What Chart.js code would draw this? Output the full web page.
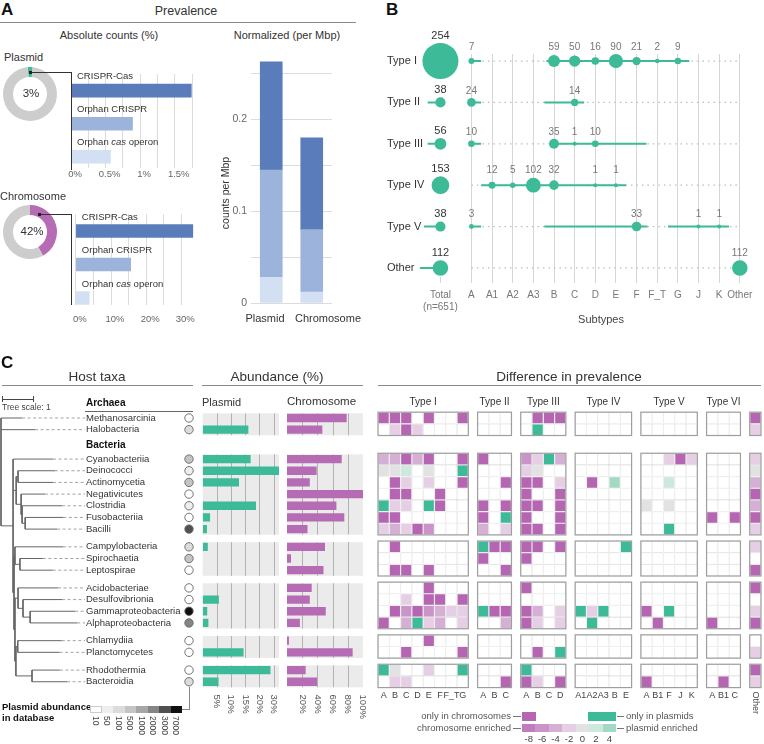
<!DOCTYPE html>
<html><head><meta charset="utf-8">
<script src="https://cdn.jsdelivr.net/npm/chart.js@4.4.1/dist/chart.umd.min.js"></script>
<style>
html,body{margin:0;padding:0;background:#fff}
#root{position:relative;width:764px;height:744px;overflow:hidden;font-family:"Liberation Sans",Arial,Helvetica,sans-serif;color:#333;background:#fff}
#root canvas{position:absolute}
.t{position:absolute;white-space:nowrap;line-height:1}
.ln{position:absolute}
</style></head><body><div id="root"></div>
<script>
const FONT='"Liberation Sans", Arial, Helvetica, sans-serif';
// ================= DATA =================
// ---- Panel A ----
const countCategories=['CRISPR-Cas','Orphan CRISPR','Orphan cas operon'];
const plasmidShare=[3,97];
const chromosomeShare=[42,58];
const plasmidCounts=[1.74,0.89,0.57];
const chromosomeCounts=[33.3,15.6,3.8];
const normGroups=['Plasmid','Chromosome'];
const normCrisprCas=[0.118,0.100];
const normOrphanCrispr=[0.117,0.068];
const normOrphanCas=[0.028,0.012];
// ---- Panel B ----
const typeRows=['Type I','Type II','Type III','Type IV','Type V','Other'];
const subtypeCols=['A','A1','A2','A3','B','C','D','E','F','F_T','G','J','K','Other'];
const typeTotals=[254,38,56,153,38,112];
const countsTypeI  =[7,null,null,null,59,50,16,90,21,2,9,null,null,null];
const countsTypeII =[24,null,null,null,null,14,null,null,null,null,null,null,null,null];
const countsTypeIII=[10,null,null,null,35,1,10,null,null,null,null,null,null,null];
const countsTypeIV =[null,12,5,102,32,null,1,1,null,null,null,null,null,null];
const countsTypeV  =[3,null,null,null,null,null,null,null,33,null,null,1,1,null];
const countsOther  =[null,null,null,null,null,null,null,null,null,null,null,null,null,112];
const rangesTypeI  =[[0,0.47],[3.63,10.55]];
const rangesTypeII =[[-2.12,-1.5],[0,0.47],[3.53,5.46]];
const rangesTypeIII=[[-2.12,-1.5],[0,0.47],[4,8.48]];
const rangesTypeIV =[[0.47,7.49]];
const rangesTypeV  =[[-2.3,-1.5],[0,0.47],[3.53,8.53],[9.52,12.48]];
const rangesOther  =[[-2.5,-1.5],[12.7,13]];
// ---- Panel C ----
const taxa=['Methanosarcinia','Halobacteria','Cyanobacteriia','Deinococci','Actinomycetia','Negativicutes','Clostridia','Fusobacteriia','Bacilli','Campylobacteria','Spirochaetia','Leptospirae','Acidobacteriae','Desulfovibrionia','Gammaproteobacteria','Alphaproteobacteria','Chlamydiia','Planctomycetes','Rhodothermia','Bacteroidia'];
const taxaGroup=[0,0,1,1,1,1,1,1,1,2,2,2,3,3,3,3,4,4,5,5];
const domainHeaders=['Archaea','Bacteria'];
const plasmidAbundance=[0,16.1,16.9,27,12.8,0,18.8,2.6,1.5,1.8,0,0,0,5.7,1.6,2.0,0,14.4,23.9,5.6];
const chromosomeAbundance=[78.5,46.5,72,39,30,100,65,75.4,27,50,5.3,48,32.5,30,51,17,2.6,86.4,24.6,39.5];
const plasmidTickValues=[5,10,15,20,25];
const plasmidTickLabels=['5%','10%','15%','20%','30%'];
const chromosomeTickValues=[20,40,60,80,100];
const chromosomeTickLabels=['20%','40%','60%','80%','100%'];
const dbLevels=['10','50','100','500','1000','2000','3000','7000'];
const dbLevelOfTaxon=[0,2,3,1,3,0,1,0,6,2,3,0,0,0,7,5,0,0,0,2];
const taxaTree='(Methanosarcinia:0.68,Halobacteria:1.10,(Cyanobacteriia:1.29,((Deinococci:1.19,Actinomycetia:1.13):0.06,(Negativicutes:0.77,(Clostridia:1.29,(Fusobacteriia:1.23,Bacilli:1.03):0.10):0.03):0.16):0.10,((Campylobacteria:1.55,(Spirochaetia:0.74,Leptospirae:1.06):0.16):0.03,((Acidobacteriae:1.29,(Desulfovibrionia:1.26,(Gammaproteobacteria:1.45,Alphaproteobacteria:1.52):0.23):0.16):0.10,((Chlamydiia:1.42,Planctomycetes:1.35):0.06,(Rhodothermia:0.90,Bacteroidia:1.13):0.52):0.03):0.03):0.03):0.39);';
const hmTypes=['Type I','Type II','Type III','Type IV','Type V','Type VI','Other'];
const hmCols=[['A','B','C','D','E','F','F_T','G'],['A','B','C'],['A','B','C','D'],['A1','A2','A3','B','E'],['A','B1','F','J','K'],['A','B1','C'],['Other']];
// C = only in chromosomes, P = only in plasmids, numbers = enrichment, . = none
const hmTypeI=["C C C . C . . C",". -2 C -2 . . . .","-4 -4 C -4 C . . C","0 0 2 . 0 . . P",". C -2 . -2 . . C",". C C . . C . .","P -2 -2 . P C . .","C C . . . . . .","-2 -4 -2 C -6 . . .",". C . . . . . .",". . . . . . . .",". C C . C . . .",". . . . C . . .",". . -2 . C C . C",". C -6 C -6 -4 -2 -2","C . -4 P -2 -4 . -2",". . . . C . . .",". . C . . . . C","P 0 . . -2 . . P",". -2 -2 . . . . ."];
const hmTypeII=[". . .",". . .","C . .",". . .",". . C",". . .","C . C","C . P","-4 . -2","P C C","C . .",". . C",". . .",". . .","P C C",". . -4",". . .",". . .",". . .",". . C"];
const hmTypeIII=[". C C C",". P . .","-6 -2 P -4","-2 0 . .","C C . -2","C . . C","C C . C","C . . C","C C . C","C C . C","C . . .",". . . .","C . . .",". . . .","C -4 . -2","C -2 . -2",". . . .",". C . P","P . . .","C -2 . C"];
const hmTypeIV=[". . . . .",". . . . .",". . . . .",". . . . .",". C . 4 .",". . . . .",". . . . .",". . . . .",". . . . .",". . . . P",". . . . .",". . . . .",". . . . .",". . . . .","P -2 P . .",". P . . .",". . . . .",". . . . .",". . . . .",". . . . ."];
const hmTypeV=[". . . . .",". . . . .",". . -2 C -2",". . . . .",". . 2 . .",". . . . .","0 . 0 . .",". . . . .",". . P . .",". . . . .",". . . . .",". . . . .",". . . . .",". . . . .","C . P . .",". C . . .",". . . . .",". . . . .",". . . . .","C . . . ."];
const hmTypeVI=[". . .",". . .",". . .",". . .",". . .",". . .",". . .","C . C",". . .",". . .",". . .",". . .",". . .",". . .",". . .","C . .",". . .",". . .",". . .",". C ."];
const hmOther=["C","-2","-2","0","-4","C","-4","C","-2","-2",".","C","C",".","-2","C",".","-2","C","-2"];
const legendLevels=[-8,-6,-4,-2,0,2,4];

// ================= STYLE =================
const GREEN='#3dba97', PURPLE='#b66cb4', DONUT_GREY='#cdcdcd';
const COUNT_COLORS=['#5b7cba','#9cb4dc','#d3e0f3'];
const LEVEL_COLORS={'C':'#b565b2','P':'#3dba97','-8':'#c07dbd','-6':'#ca94c8','-4':'#d6afd4','-2':'#e6cfe5','0':'#e2e2e2','2':'#cde9dd','4':'#a2d9c3'};
const DB_GREYS=['#ffffff','#eeeeee','#dcdcdc','#c4c4c4','#a6a6a6','#858585','#505050','#111111'];

Chart.defaults.font.family=FONT;
Chart.defaults.font.size=10;
Chart.defaults.color='#666';
Chart.defaults.animation=false;
Chart.defaults.responsive=false;
Chart.defaults.maintainAspectRatio=false;
Chart.defaults.devicePixelRatio=1;
Chart.defaults.events=[];
Chart.defaults.plugins.legend.display=false;
Chart.defaults.plugins.tooltip.enabled=false;

const root=document.getElementById('root');
function cv(l,t,w,h){const c=document.createElement('canvas');c.width=w;c.height=h;Object.assign(c.style,{left:l+'px',top:t+'px',width:w+'px',height:h+'px'});root.appendChild(c);return c;}
function T(s,x,y,o){o=o||{};const d=document.createElement('div');d.className='t';d.innerHTML=s;d.style.left=x+'px';d.style.top=y+'px';d.style.fontSize=(o.size||11)+'px';if(o.bold)d.style.fontWeight='bold';d.style.color=o.color||'#333';const ax=o.align==='center'?'-50%':(o.align==='right'?'-100%':'0%');d.style.transform=`translate(${ax},-50%)`;root.appendChild(d);return d;}
function R(s,x,ytop,size,color){const d=document.createElement('div');d.className='t';d.textContent=s;d.style.left=x+'px';d.style.top=ytop+'px';d.style.fontSize=size+'px';d.style.color=color||'#444';d.style.transformOrigin='0 0';d.style.transform='rotate(90deg) translate(0,-50%)';root.appendChild(d);}
function RL(s,x,y,size,color){const d=document.createElement('div');d.className='t';d.textContent=s;d.style.left=x+'px';d.style.top=y+'px';d.style.fontSize=size+'px';d.style.color=color||'#333';d.style.transform='translate(-50%,-50%) rotate(-90deg)';root.appendChild(d);}
function H(x1,x2,y,c,w){w=w||1;const d=document.createElement('div');d.className='ln';Object.assign(d.style,{left:x1+'px',top:(y-w/2)+'px',width:(x2-x1)+'px',height:w+'px',background:c||'#888'});root.appendChild(d);}
function V(x,y1,y2,c,w){w=w||1;const d=document.createElement('div');d.className='ln';Object.assign(d.style,{left:(x-w/2)+'px',top:y1+'px',width:w+'px',height:(y2-y1)+'px',background:c||'#888'});root.appendChild(d);}
function BOX(l,t,w,h,bg,border){const d=document.createElement('div');d.className='ln';Object.assign(d.style,{left:l+'px',top:t+'px',width:w+'px',height:h+'px',background:bg,boxSizing:'border-box'});if(border)d.style.border=border;root.appendChild(d);}

// ================= PANEL A =================
function donut(l,t,data,color,rot){
  return new Chart(cv(l,t,60,60),{type:'doughnut',
    data:{datasets:[{data:data,backgroundColor:[color,DONUT_GREY],borderWidth:0}]},
    options:{cutout:'63%',rotation:rot,layout:{padding:3}}});
}
donut(0,64,plasmidShare,GREEN,-5);
donut(0,202,chromosomeShare,PURPLE,0);

function richLabel(ctx,text,x,y){
  const parts=text.split(/(\bcas\b)/);let cx=x;
  parts.forEach(p=>{if(!p)return;ctx.font=(p==='cas'?'italic ':'')+'9.5px '+FONT;ctx.fillText(p,cx,y);cx+=ctx.measureText(p).width;});
}
const absLabels={id:'absLabels',afterDatasetsDraw(chart){const {ctx,scales:{x,y}}=chart;ctx.save();ctx.fillStyle='#333';ctx.textBaseline='middle';ctx.textAlign='left';
  countCategories.forEach((c,i)=>richLabel(ctx,c,x.getPixelForValue(0)+6,y.getPixelForValue(i)-14));ctx.restore();}};
function absChart(l,t,vals,xmax,step,every,ymin,ymax,pad,tickPad){
  return new Chart(cv(l,t,140,130),{type:'bar',
    data:{datasets:[{data:vals.map((v,i)=>({x:v,y:i})),backgroundColor:COUNT_COLORS,borderWidth:0,barThickness:13}]},
    options:{indexAxis:'y',layout:{padding:pad},
      scales:{
        x:{type:'linear',min:0,max:xmax,border:{display:false},
          grid:{color:'#dcdcdc',drawTicks:false},
          ticks:{stepSize:step,includeBounds:false,autoSkip:false,maxRotation:0,padding:tickPad,labelOffset:4,color:'#666',font:{size:9.5},
            callback:v=>{const k=v/every;return Math.abs(k-Math.round(k))<1e-6?(Math.round(v*100)/100)+'%':'';}},
          afterFit(s){s.height=22;}},
        y:{type:'linear',min:ymin,max:ymax,reverse:true,offset:false,display:false}}},
    plugins:[absLabels]});
}
absChart(60,60,plasmidCounts,1.75,0.25,0.5,-0.504,2.34,{left:11,right:8,top:14,bottom:0},1);
absChart(60,200,chromosomeCounts,33.5,5,10,-0.507,2.209,{left:11,right:6.4,top:14,bottom:3},9);

new Chart(cv(200,45,150,290),{type:'bar',
  data:{labels:normGroups,datasets:[
    {data:normOrphanCas,backgroundColor:COUNT_COLORS[2]},
    {data:normOrphanCrispr,backgroundColor:COUNT_COLORS[1]},
    {data:normCrisprCas,backgroundColor:COUNT_COLORS[0]}]},
  options:{layout:{padding:{left:31,right:18,top:6,bottom:32}},
    datasets:{bar:{barThickness:22,borderWidth:0}},
    scales:{x:{stacked:true,display:false},
      y:{stacked:true,min:0,max:0.27,border:{display:false},grid:{color:'#dcdcdc',drawTicks:false},
        ticks:{stepSize:0.05,includeBounds:false,padding:4,color:'#666',font:{size:10.5},
          callback:v=>{const k=Math.round(v*100);return k%10===0?String(k/100):'';}},
        afterFit(s){s.width=20;}}}}});

// ================= PANEL B =================
const typeCounts=[countsTypeI,countsTypeII,countsTypeIII,countsTypeIV,countsTypeV,countsOther];
const typeRanges=[rangesTypeI,rangesTypeII,rangesTypeIII,rangesTypeIV,rangesTypeV,rangesOther];
const TOTAL_X=-1.5;
const sizeFor=v=>v>200?18:1.4+0.6*Math.sqrt(v);
const circleData=[];
typeTotals.forEach((v,ri)=>circleData.push({x:TOTAL_X,y:ri,v:v}));
typeCounts.forEach((row,ri)=>row.forEach((v,ci)=>{if(v!=null)circleData.push({x:ci,y:ri,v:v});}));
const rangeData=[];
typeRanges.forEach((segs,ri)=>segs.forEach(([a,b])=>rangeData.push({x:a,y:ri},{x:b,y:ri},{x:NaN,y:NaN})));
const dotData=[];
typeRows.forEach((r,ri)=>dotData.push({x:0,y:ri},{x:subtypeCols.length-1,y:ri},{x:NaN,y:NaN}));
const bLabels={id:'bLabels',afterDatasetsDraw(chart){
  const {ctx,scales:{x,y}}=chart;ctx.save();ctx.textAlign='center';ctx.textBaseline='middle';
  typeRows.forEach((r,ri)=>{
    const row=typeCounts[ri];const maxR=Math.max(...row.filter(v=>v!=null).map(sizeFor));
    ctx.font='10px '+FONT;ctx.fillStyle='#777';
    row.forEach((v,ci)=>{if(v==null)return;ctx.fillText(String(v),x.getPixelForValue(ci),y.getPixelForValue(ri)-maxR-7);});
    const tv=typeTotals[ri];ctx.font='11px '+FONT;ctx.fillStyle='#333';
    ctx.fillText(String(tv),x.getPixelForValue(TOTAL_X),y.getPixelForValue(ri)-sizeFor(tv)-7);
  });ctx.restore();}};
new Chart(cv(380,25,384,315),{type:'scatter',
  data:{datasets:[
    {data:circleData,pointRadius:c=>c.raw?sizeFor(c.raw.v):0,backgroundColor:GREEN,borderColor:GREEN,borderWidth:0,clip:false,order:0},
    {data:rangeData,showLine:true,borderColor:GREEN,borderWidth:2,pointRadius:0,clip:false,order:1},
    {data:dotData,showLine:true,borderColor:'#bcbcbc',borderDash:[1.5,4],borderWidth:1.3,pointRadius:0,order:2}]},
  options:{layout:{padding:{left:7,right:9,top:29,bottom:18}},
    scales:{
      x:{type:'linear',min:-2.2,max:13.3,
        afterBuildTicks(s){s.ticks=[TOTAL_X].concat(subtypeCols.map((c,i)=>i)).map(v=>({value:v}));},
        ticks:{autoSkip:false,maxRotation:0,padding:6,color:'#777',font:{size:10},callback:(v,i)=>i===0?['Total','(n=651)']:subtypeCols[i-1]},
        grid:{color:c=>(c.tick&&c.tick.value===TOTAL_X)?'rgba(0,0,0,0)':'#d6d6d6',tickColor:'#d6d6d6',tickLength:6},
        border:{display:false},afterFit(s){s.height=45;}},
      y:{type:'linear',min:-0.17,max:5.22,reverse:true,
        afterBuildTicks(s){s.ticks=typeRows.map((r,i)=>({value:i}));},
        ticks:{autoSkip:false,crossAlign:'far',padding:0,color:'#333',font:{size:11},callback:(v,i)=>typeRows[i]},
        grid:{display:false},border:{display:false},afterFit(s){s.width=39;}}}},
  plugins:[bLabels]});

// ================= PANEL C =================
const ROW_GAP=0.52, DOMAIN_GAP=1.0;
const rowPos=taxa.map((t,i)=>i+taxaGroup[i]*ROW_GAP+(taxaGroup[i]>0?DOMAIN_GAP:0));
const groups=[];taxaGroup.forEach((g,i)=>{(groups[g]=groups[g]||[]).push(i);});
const YMIN=-1,YMAX=23.6,AREA_TOP=406.33,AREA_BOTTOM=693.42;
const yScaleC=()=>({type:'linear',min:YMIN,max:YMAX,reverse:true,offset:false,display:false});
const padC=(top,h,l,r)=>({left:l,right:r,top:AREA_TOP-top,bottom:top+h-AREA_BOTTOM});

// tree
function parseNewick(s){let i=0;function node(){const n={children:[],name:'',len:0};
  if(s[i]==='('){i++;for(;;){n.children.push(node());if(s[i]===','){i++;continue;}break;}i++;}
  let nm='';while(i<s.length&&',():;'.indexOf(s[i])<0)nm+=s[i++];n.name=nm.trim();
  if(s[i]===':'){i++;let num='';while(i<s.length&&',();'.indexOf(s[i])<0)num+=s[i++];n.len=parseFloat(num);}
  return n;}return node();}
const TREE_PX=31, LEADER_END=84/TREE_PX;
const treeSeg=[],leaderSeg=[];
(function layout(n,d){n.depth=d+n.len;
  if(!n.children.length){n.y=rowPos[taxa.indexOf(n.name)];leaderSeg.push({x:n.depth,y:n.y},{x:LEADER_END,y:n.y},{x:NaN,y:NaN});return;}
  n.children.forEach(c=>layout(c,n.depth));
  const f=n.children[0].y,l=n.children[n.children.length-1].y;n.y=(f+l)/2;
  treeSeg.push({x:n.depth,y:f},{x:n.depth,y:l},{x:NaN,y:NaN});
  n.children.forEach(c=>treeSeg.push({x:n.depth,y:c.y},{x:c.depth,y:c.y},{x:NaN,y:NaN}));
})(parseNewick(taxaTree),0);
const taxaLabels={id:'taxaLabels',afterDraw(chart){const {ctx,scales:{y}}=chart;ctx.save();ctx.textBaseline='middle';ctx.textAlign='left';
  ctx.fillStyle='#333';ctx.font='9.5px '+FONT;taxa.forEach((t,i)=>ctx.fillText(t,86,y.getPixelForValue(rowPos[i])));
  ctx.fillStyle='#111';ctx.font='bold 10px '+FONT;
  ctx.fillText(domainHeaders[0],86,y.getPixelForValue(rowPos[0]-1.25));
  ctx.fillText(domainHeaders[1],86,y.getPixelForValue(rowPos[groups[1][0]]-1.2));
  ctx.strokeStyle='#666';ctx.lineWidth=1;ctx.beginPath();const ly=Math.round(y.getPixelForValue(rowPos[0]-0.6))+0.5;ctx.moveTo(85,ly);ctx.lineTo(193,ly);ctx.stroke();
  ctx.restore();}};
new Chart(cv(0,395,200,310),{type:'scatter',
  data:{datasets:[
    {data:treeSeg,showLine:true,borderColor:'#666',borderWidth:1,pointRadius:0,clip:false},
    {data:leaderSeg,showLine:true,borderColor:'#a3a3a3',borderWidth:1,borderDash:[3,2.5],pointRadius:0}]},
  options:{layout:{padding:padC(395,310,1,1)},scales:{x:{type:'linear',min:0,max:198/TREE_PX,display:false},y:yScaleC()}},
  plugins:[taxaLabels]});

// db abundance circles
new Chart(cv(179,395,20,310),{type:'scatter',
  data:{datasets:[{data:rowPos.map(p=>({x:0,y:p})),pointRadius:4.2,backgroundColor:dbLevelOfTaxon.map(l=>DB_GREYS[l]),borderColor:'#666',borderWidth:0.9,clip:false}]},
  options:{layout:{padding:padC(395,310,0,0)},scales:{x:{type:'linear',min:-1,max:1,display:false},y:yScaleC()}}});

// abundance bars
function abundPlugin(ticks,labels){return{id:'ab',
  beforeDatasetsDraw(chart){const {ctx,chartArea:a,scales:{x,y}}=chart;ctx.save();
    groups.forEach(g=>{const y0=y.getPixelForValue(rowPos[g[0]]-0.4),y1=y.getPixelForValue(rowPos[g[g.length-1]]+0.48);
      ctx.fillStyle='#ebebeb';ctx.fillRect(a.left,y0,a.right-a.left,y1-y0);
      ctx.strokeStyle='#b2b2b2';ctx.lineWidth=1;
      ticks.forEach(t=>{const px=Math.round(x.getPixelForValue(t))+0.5;if(px>a.right-1.5)return;ctx.beginPath();ctx.moveTo(px,y0);ctx.lineTo(px,y1);ctx.stroke();});});
    ctx.restore();},
  afterDraw(chart){const {ctx,scales:{x,y}}=chart;const yb=y.getPixelForValue(rowPos[rowPos.length-1]+0.5)+7;
    ctx.save();ctx.fillStyle='#555';ctx.font='9.5px '+FONT;ctx.textAlign='left';ctx.textBaseline='middle';
    ticks.forEach((t,k)=>{ctx.save();ctx.translate(x.getPixelForValue(t),yb);ctx.rotate(Math.PI/2);ctx.fillText(labels[k],0,0);ctx.restore();});
    ctx.restore();}};}
function abundChart(l,w,pl,pr,vals,xmax,color,ticks,labels){
  return new Chart(cv(l,395,w,349),{type:'bar',
    data:{datasets:[{data:vals.map((v,i)=>({x:v,y:rowPos[i]})).filter(d=>d.x>0),backgroundColor:color,borderWidth:0,barThickness:8.3,inflateAmount:0}]},
    options:{indexAxis:'y',layout:{padding:padC(395,349,pl,pr)},
      scales:{x:{type:'linear',min:0,max:xmax,display:false},y:yScaleC()}},
    plugins:[abundPlugin(ticks,labels)]});
}
abundChart(195,95,7.7,11,plasmidAbundance,26.9,GREEN,plasmidTickValues,plasmidTickLabels);
abundChart(280,90,7,7,chromosomeAbundance,100,PURPLE,chromosomeTickValues,chromosomeTickLabels);

// heatmap
const HM_GAP=0.82;
const hmBlocks=[hmTypeI,hmTypeII,hmTypeIII,hmTypeIV,hmTypeV,hmTypeVI,hmOther];
const colX=[];let cursor=0;
hmCols.forEach(cols=>{colX.push(cols.map((c,ci)=>cursor+ci));cursor+=cols.length+HM_GAP;});
const hmCells=[];
hmBlocks.forEach((rows,ti)=>rows.forEach((rowStr,i)=>rowStr.split(' ').forEach((tok,ci)=>{
  hmCells.push({x:colX[ti][ci],y:[rowPos[i]-0.5,rowPos[i]+0.5],v:tok});})));
const cellColor=v=>(v&&LEVEL_COLORS[v])?LEVEL_COLORS[v]:'#ffffff';
const hmPlugin={id:'hm',afterDatasetsDraw(chart){
  const {ctx,scales:{x,y}}=chart;ctx.save();
  const yBottom=y.getPixelForValue(rowPos[rowPos.length-1]+0.5);
  hmCols.forEach((cols,ti)=>{
    const x0=x.getPixelForValue(colX[ti][0]-0.5),x1=x.getPixelForValue(colX[ti][cols.length-1]+0.5);
    ctx.strokeStyle='#9e9e9e';ctx.lineWidth=1.2;
    groups.forEach(g=>{const y0=y.getPixelForValue(rowPos[g[0]]-0.5),y1=y.getPixelForValue(rowPos[g[g.length-1]]+0.5);ctx.strokeRect(x0,y0,x1-x0,y1-y0);});
    ctx.textAlign='center';ctx.textBaseline='middle';
    if(hmTypes[ti]!=='Other'){ctx.fillStyle='#333';ctx.font='10px '+FONT;ctx.fillText(hmTypes[ti],(x0+x1)/2,y.getPixelForValue(rowPos[0]-0.5)-10);}
    ctx.fillStyle='#444';ctx.font='9px '+FONT;
    cols.forEach((c,ci)=>{const px=x.getPixelForValue(colX[ti][ci]);
      if(hmTypes[ti]==='Other'){ctx.save();ctx.translate(px,yBottom+4);ctx.rotate(Math.PI/2);ctx.textAlign='left';ctx.fillText(c,0,0);ctx.restore();}
      else ctx.fillText(c,px,yBottom+8);});
  });
  ctx.restore();}};
const allColX=[].concat(...colX);
new Chart(cv(370,390,394,354),{type:'bar',
  data:{datasets:[{data:hmCells,backgroundColor:c=>cellColor(c.raw&&c.raw.v),borderColor:'#d9d9d9',borderWidth:0.6,borderSkipped:false,inflateAmount:0,categoryPercentage:1,barPercentage:1}]},
  options:{layout:{padding:{left:8,right:3,top:AREA_TOP-390,bottom:744-AREA_BOTTOM}},
    scales:{x:{type:'linear',min:-0.5,max:allColX[allColX.length-1]+0.5,offset:false,display:false,
      afterBuildTicks(s){s.ticks=allColX.map(v=>({value:v}));}},y:yScaleC()}},
  plugins:[hmPlugin]});

// ================= TEXT / DECORATION =================
// Panel A
T('A',1,9,{size:17,bold:true,color:'#111'});
T('Prevalence',186,11,{size:12.5,align:'center'});
H(0,356,22.5,'#8a8a8a');
T('Absolute counts (%)',109,35,{size:11,align:'center'});
T('Normalized (per Mbp)',287,35,{size:11,align:'center'});
T('Plasmid',4,57,{size:11});
T('Chromosome',0,196,{size:11});
T(plasmidShare[0]+'%',31,94,{size:11.5,align:'center'});
T(chromosomeShare[0]+'%',32,232,{size:11.5,align:'center'});
H(30,71,72,'#333');V(71,72,170,'#333');BOX(28.5,70.5,3,3,'#222');
H(39,71,214,'#333');V(71,214,305,'#333');BOX(37.5,212.5,3,3,'#222');
RL('counts per Mbp',225,193,10.5,'#333');
T(normGroups[0],265,318,{size:11,align:'center'});
T(normGroups[1],328,318,{size:11,align:'center'});
// Panel B
T('B',386,9,{size:17,bold:true,color:'#111'});
T('Subtypes',601,319,{size:11,align:'center',color:'#444'});
// Panel C
T('C',1,362,{size:17,bold:true,color:'#111'});
T('Host taxa',97,377,{size:13.5,align:'center'});H(2,193,385,'#8a8a8a');
T('Abundance (%)',277,377,{size:13.5,align:'center'});H(202,363,385,'#8a8a8a');
T('Difference in prevalence',569,377,{size:13.5,align:'center'});H(378,761,385,'#8a8a8a');
T('Plasmid',202,402,{size:11});
T('Chromosome',287,402,{size:11.5});
H(2,33,399,'#444');V(2,396,402,'#444');V(33,396,402,'#444');
T('Tree scale: 1',2,407,{size:8.5,color:'#444'});
// db legend
T('Plasmid abundance',2,707,{size:9.5,bold:true,color:'#111'});
T('in database',2,718,{size:9.5,bold:true,color:'#111'});
dbLevels.forEach((lv,k)=>{BOX(90+k*11.5,705.5,11.5,7,DB_GREYS[k],k===0?'1px solid #ccc':null);R(lv,90+k*11.5+5.75,716,8.5,'#444');});
V(189,686.5,709.5,'#888');H(182,189,709.5,'#888');
// heatmap legend
T('only in chromosomes',511,716,{size:9.5,align:'right',color:'#555'});
T('chromosome enriched',511,728,{size:9.5,align:'right',color:'#555'});
H(513,521,716,'#777');H(513,521,728,'#777');
BOX(522,712,14,8.5,LEVEL_COLORS['C']);
const LW=94/legendLevels.length;
legendLevels.forEach((lv,k)=>{BOX(522+k*LW,723.5,LW+0.3,8.5,LEVEL_COLORS[String(lv)]);T(String(lv),522+k*LW+LW/2,739,{size:9.5,align:'center',color:'#444'});});
BOX(588,712,28,8.5,LEVEL_COLORS['P']);
H(617,624,716,'#777');H(617,624,728,'#777');
T('only in plasmids',626,716,{size:9.5,color:'#555'});
T('plasmid enriched',626,728,{size:9.5,color:'#555'});
</script></body></html>
